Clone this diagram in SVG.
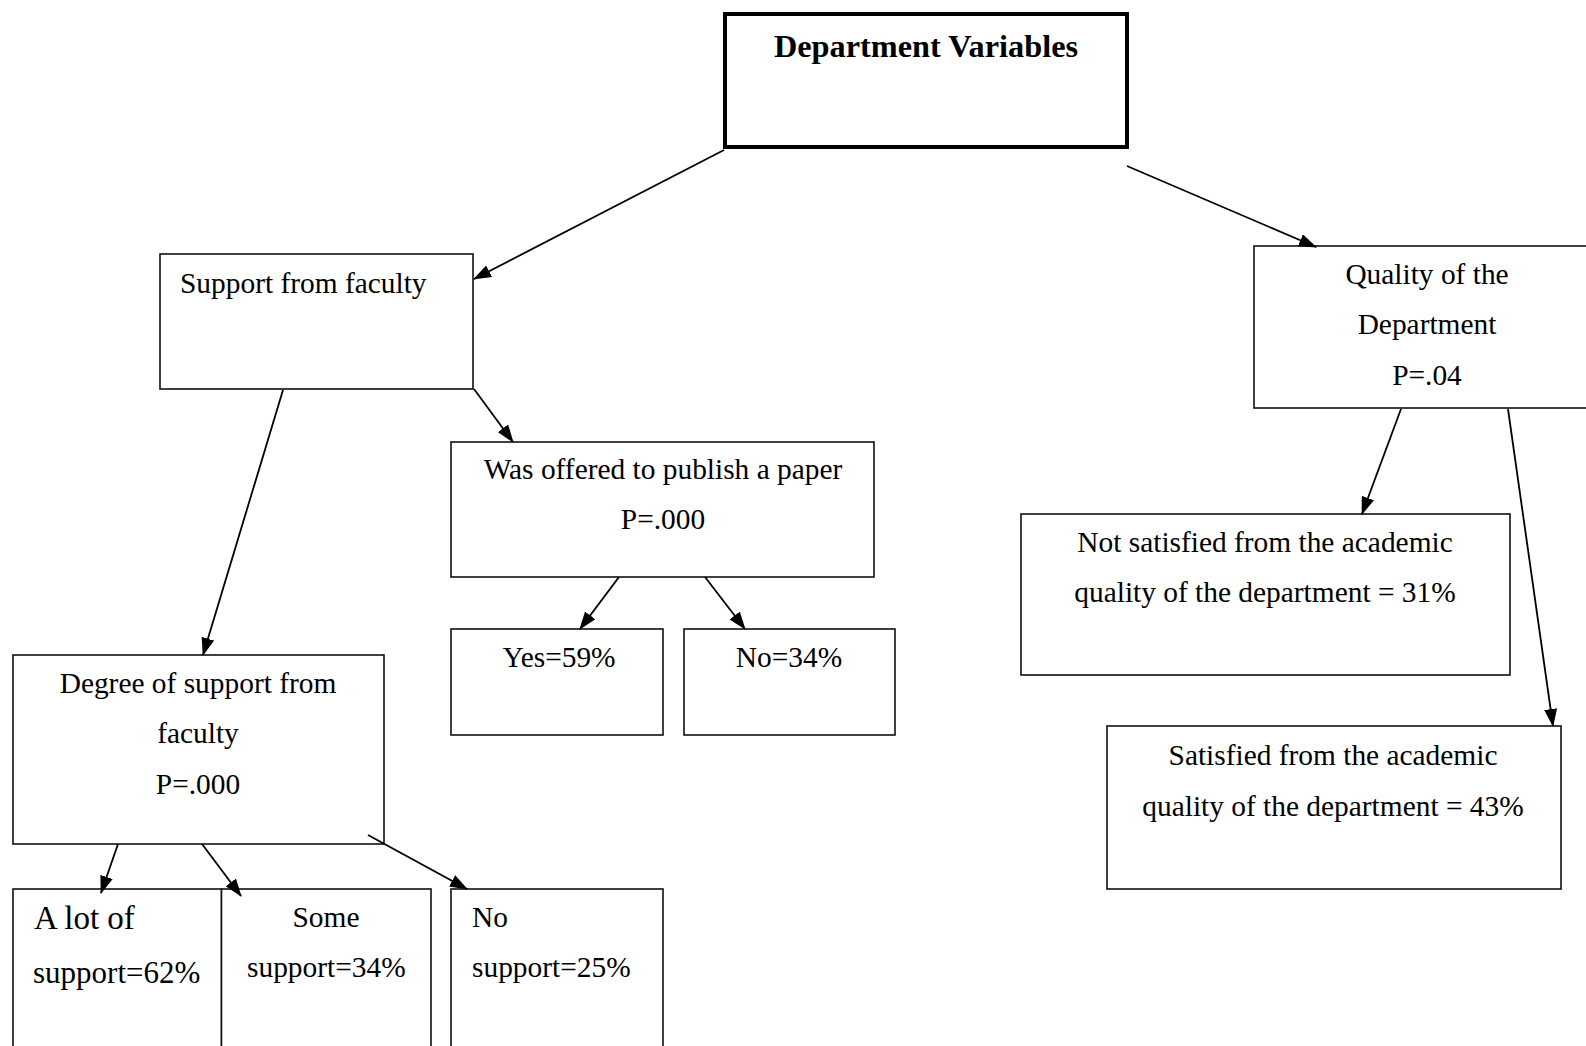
<svg xmlns="http://www.w3.org/2000/svg" width="1586" height="1046" viewBox="0 0 1586 1046">
<style>
  .box { fill: #fff; stroke: #111; stroke-width: 1.6; }
  .main { fill: #fff; stroke: #000; stroke-width: 4; }
  .t { font-family: "Liberation Serif", "Times New Roman", serif; font-size: 29.4px; fill: #000; }
  .c { text-anchor: middle; }
  .title { font-family: "Liberation Serif", "Times New Roman", serif; font-size: 32.3px; font-weight: bold; fill: #000; text-anchor: middle; }
  .big { font-size: 31px; }
  .big2 { font-size: 33px; }
  .conn line { stroke: #000; stroke-width: 1.8; marker-end: url(#arr); }
</style>
<defs>
  <marker id="arr" viewBox="0 0 18 13" refX="17" refY="6.5" markerWidth="18" markerHeight="13" markerUnits="userSpaceOnUse" orient="auto">
    <path d="M0,0 L18,6.5 L0,13 z" fill="#000"/>
  </marker>
</defs>
<rect width="1586" height="1046" fill="#fff"/>

<g id="n-department">
  <rect class="main" x="725" y="14" width="402" height="133"/>
  <text class="title" x="926" y="57">Department Variables</text>
</g>
<g id="n-support">
  <rect class="box" x="160" y="254" width="313" height="135"/>
  <text class="t" x="180" y="293">Support from faculty</text>
</g>
<g id="n-quality">
  <rect class="box" x="1254" y="246" width="360" height="162"/>
  <text class="t c" x="1427" y="284">Quality of the</text>
  <text class="t c" x="1427" y="334">Department</text>
  <text class="t c" x="1427" y="385">P=.04</text>
</g>
<g id="n-offered">
  <rect class="box" x="451" y="442" width="423" height="135"/>
  <text class="t c" x="663" y="479">Was offered to publish a paper</text>
  <text class="t c" x="663" y="529">P=.000</text>
</g>
<g id="n-yes">
  <rect class="box" x="451" y="629" width="212" height="106"/>
  <text class="t c" x="559" y="667">Yes=59%</text>
</g>
<g id="n-no">
  <rect class="box" x="684" y="629" width="211" height="106"/>
  <text class="t c" x="789" y="667">No=34%</text>
</g>
<g id="n-degree">
  <rect class="box" x="13" y="655" width="371" height="189"/>
  <text class="t c" x="198" y="693">Degree of support from</text>
  <text class="t c" x="198" y="743">faculty</text>
  <text class="t c" x="198" y="794">P=.000</text>
</g>
<g id="n-alot">
  <rect class="box" x="13" y="889" width="208.5" height="170"/>
  <text class="t big2" x="34" y="929">A lot of</text>
  <text class="t big" x="33" y="983">support=62%</text>
</g>
<g id="n-some">
  <rect class="box" x="221.5" y="889" width="209.5" height="170"/>
  <text class="t c" x="326" y="927">Some</text>
  <text class="t" x="247" y="977">support=34%</text>
</g>
<g id="n-nosupport">
  <rect class="box" x="451" y="889" width="212" height="170"/>
  <text class="t" x="472" y="927">No</text>
  <text class="t" x="472" y="977">support=25%</text>
</g>
<g id="n-notsatisfied">
  <rect class="box" x="1021" y="514" width="489" height="161"/>
  <text class="t c" x="1265" y="552">Not satisfied from the academic</text>
  <text class="t c" x="1265" y="602">quality of the department = 31%</text>
</g>
<g id="n-satisfied">
  <rect class="box" x="1107" y="726" width="454" height="163"/>
  <text class="t c" x="1333" y="765">Satisfied from the academic</text>
  <text class="t c" x="1333" y="816">quality of the department = 43%</text>
</g>

<g id="connectors" class="conn">
  <line x1="724" y1="150" x2="474" y2="279"/>
  <line x1="1127" y1="166" x2="1316" y2="247"/>
  <line x1="283" y1="390" x2="203" y2="655"/>
  <line x1="474" y1="389" x2="513" y2="442"/>
  <line x1="619" y1="577" x2="580" y2="629"/>
  <line x1="705" y1="577" x2="745" y2="629"/>
  <line x1="1401" y1="409" x2="1362" y2="514"/>
  <line x1="1508" y1="409" x2="1553" y2="726"/>
  <line x1="118" y1="844" x2="101" y2="893"/>
  <line x1="202" y1="844" x2="241" y2="896"/>
  <line x1="368" y1="835" x2="467" y2="889"/>
</g>
</svg>
